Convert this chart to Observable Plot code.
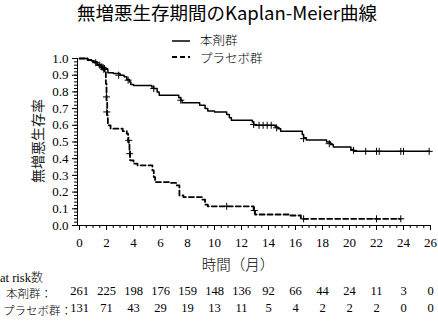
<!DOCTYPE html>
<html><head><meta charset="utf-8">
<script src="https://cdn.jsdelivr.net/npm/d3@7"></script>
<script src="https://cdn.jsdelivr.net/npm/@observablehq/plot@0.6"></script>
<style>
body{margin:0;background:#fff;}
#wrap{position:relative;width:438px;height:325px;overflow:hidden;font-family:"Liberation Serif","DejaVu Serif",serif;color:#000;}
.abs{position:absolute;white-space:nowrap;line-height:1;}
#title{left:227px;top:3px;transform:translateX(-50%);font-family:"Noto Sans CJK JP",sans-serif;font-size:18.5px;}
#ylab{left:37px;top:141px;transform:translate(-50%,-50%) rotate(-90deg);font-family:"Noto Sans CJK JP";font-size:14px;color:#222;}
#xlab{left:238px;top:257px;transform:translateX(-50%);font-family:"Noto Sans CJK JP";font-size:14.5px;font-weight:300;}
.leg{font-family:"Noto Sans CJK JP";font-size:12.5px;font-weight:300;}
.risk{font-family:"Liberation Serif","DejaVu Serif",serif;font-size:12.5px;}
.cjk{font-family:"Noto Sans CJK JP";font-size:11.5px;font-weight:300;}
svg text{font-family:"Liberation Serif","DejaVu Serif",serif;}
</style></head><body><div id="wrap"></div>
<script>
// --- data ---
const groups = ["本剤群", "プラセボ群"];
// Kaplan-Meier steps (time in months, survival from that time on)
const treatTime = [0,0.6,0.9,1.1,1.3,1.5,1.7,1.9,2.1,2.5,3.0,3.3,3.5,3.7,3.8,4.0,5.35,5.5,5.75,5.9,7.35,7.5,7.6,8.9,9.3,9.5,10.0,10.9,11.1,11.25,12.8,12.9,13.0,14.5,14.7,14.9,16.5,16.6,16.8,18.3,18.6,18.8,20.1,20.3,25.9];
const treatSurv = [1.0,0.992,0.985,0.975,0.965,0.955,0.945,0.935,0.915,0.91,0.90,0.89,0.875,0.86,0.845,0.838,0.83,0.82,0.80,0.78,0.765,0.75,0.735,0.72,0.70,0.685,0.68,0.665,0.645,0.63,0.62,0.605,0.60,0.59,0.58,0.565,0.545,0.525,0.512,0.50,0.485,0.47,0.455,0.444,0.444];
const placTime = [0,0.6,1.0,1.3,1.6,1.85,1.95,2.0,2.05,2.1,2.3,3.2,3.5,3.6,3.7,3.75,4.0,4.3,5.4,5.5,5.6,6.7,7.2,7.4,7.7,9.1,9.3,9.5,12.9,13.0,15.6,16.4,23.8];
const placSurv = [1.0,0.99,0.98,0.96,0.945,0.93,0.85,0.75,0.66,0.60,0.58,0.565,0.55,0.50,0.45,0.39,0.37,0.36,0.33,0.29,0.26,0.255,0.24,0.18,0.17,0.155,0.125,0.115,0.09,0.066,0.06,0.04,0.04];
// censor marks
const treatCensTime = [1.2,1.5,1.65,1.75,1.85,2.9,3.6,5.5,7.5,12.9,13.3,13.6,13.9,14.2,14.6,16.6,18.5,20.3,21.2,22.0,22.2,23.8,24.0,25.9];
const treatCensSurv = [0.975,0.96,0.95,0.945,0.94,0.90,0.87,0.82,0.75,0.605,0.60,0.60,0.60,0.60,0.585,0.52,0.49,0.45,0.444,0.444,0.444,0.444,0.444,0.444];
const placCensTime = [1.8,2.0,2.02,3.65,3.72,10.9,12.95,16.6,22.0,23.8];
const placCensSurv = [0.935,0.77,0.68,0.51,0.43,0.115,0.09,0.04,0.04,0.04];
// at risk table
const riskTimes = [0,2,4,6,8,10,12,14,16,18,20,22,24,26];
const treatRisk = [261,225,198,176,159,148,136,92,66,44,24,11,3,0];
const placRisk = [131,71,43,29,19,13,11,5,4,2,2,2,0,0];
const xTicks = [0,2,4,6,8,10,12,14,16,18,20,22,24,26];
const yTicks = [0,0.1,0.2,0.3,0.4,0.5,0.6,0.7,0.8,0.9,1.0];

// --- build tables ---
const km = [
  ...treatTime.map((t,i)=>({group:groups[0], t, s:treatSurv[i]})),
  ...placTime.map((t,i)=>({group:groups[1], t, s:placSurv[i]}))
];
const cens = [
  ...treatCensTime.map((t,i)=>({group:groups[0], t, s:treatCensSurv[i]})),
  ...placCensTime.map((t,i)=>({group:groups[1], t, s:placCensSurv[i]}))
];

const serif = '"Liberation Serif", "DejaVu Serif", serif';
const chart = Plot.plot({
  width: 438, height: 325,
  marginLeft: 77, marginRight: 8, marginTop: 58, marginBottom: 100,
  style: {fontFamily: serif, fontSize: "13px", background: "white", overflow: "visible"},
  x: {domain: [-0.15, 26], label: null},
  y: {domain: [0, 1], label: null},
  marks: [
    Plot.axisX({ticks: d3.range(0, 26.01, 0.5), tickSize: 3, tickFormat: () => ""}),
    Plot.axisX({ticks: xTicks, tickSize: 5, tickPadding: 7, tickFormat: d => String(d), fontSize: 13}),
    Plot.axisY({ticks: d3.range(0, 1.001, 0.02), tickSize: 3, tickFormat: () => ""}),
    Plot.axisY({ticks: yTicks, tickSize: 5, tickPadding: 4, tickFormat: d3.format(".1f"), fontSize: 13}),
    Plot.ruleX([-0.15], {y1: 0, y2: 1, stroke: "black"}),
    Plot.ruleY([0], {stroke: "black"}),
    Plot.line(km.filter(d => d.group === groups[0]), {x: "t", y: "s", curve: "step-after", stroke: "black", strokeWidth: 1.5}),
    Plot.line(km.filter(d => d.group === groups[1]), {x: "t", y: "s", curve: "step-after", stroke: "black", strokeWidth: 1.8, strokeDasharray: "5,3"}),
    Plot.dot(cens, {x: "t", y: "s", symbol: "plus", r: 2.4, stroke: "black", strokeWidth: 1}),
    Plot.text(riskTimes, {x: d => d, text: (d, i) => String(treatRisk[i]), frameAnchor: "bottom", dy: 69, fontSize: 12.5}),
    Plot.text(riskTimes, {x: d => d, text: (d, i) => String(placRisk[i]), frameAnchor: "bottom", dy: 86, fontSize: 12.5})
  ]
});

const wrap = document.getElementById("wrap");
chart.style.position = "absolute";
chart.style.left = "0"; chart.style.top = "0";
wrap.appendChild(chart);

function addDiv(id, cls, html, left, top) {
  const d = document.createElement("div");
  if (id) d.id = id;
  d.className = "abs " + (cls || "");
  d.innerHTML = html;
  if (left != null) d.style.left = left + "px";
  if (top != null) d.style.top = top + "px";
  wrap.appendChild(d);
  return d;
}
addDiv("title", "", "無増悪生存期間のKaplan-Meier曲線");
addDiv("ylab", "", "無増悪生存率");
addDiv("xlab", "", "時間（月）");
addDiv(null, "risk", 'at risk<span class="cjk" style="font-size:12px">数</span>', 0, 271);
addDiv(null, "cjk", "本剤群：", 6, 288);
addDiv(null, "cjk", "プラセボ群：", 3, 305);

// legend
const ns = "http://www.w3.org/2000/svg";
const lsvg = document.createElementNS(ns, "svg");
lsvg.setAttribute("width", 40); lsvg.setAttribute("height", 30);
lsvg.style.position = "absolute"; lsvg.style.left = "168px"; lsvg.style.top = "33px";
[[8, null, 1.5], [24, "5,3", 1.8]].forEach(([y, dash, w]) => {
  const l = document.createElementNS(ns, "line");
  l.setAttribute("x1", 4); l.setAttribute("x2", 22);
  l.setAttribute("y1", y); l.setAttribute("y2", y);
  l.setAttribute("stroke", "black"); l.setAttribute("stroke-width", w);
  if (dash) l.setAttribute("stroke-dasharray", dash);
  lsvg.appendChild(l);
});
wrap.appendChild(lsvg);
addDiv(null, "leg", groups[0], 200, 34);
addDiv(null, "leg", groups[1], 200, 52);
</script>
</body></html>
